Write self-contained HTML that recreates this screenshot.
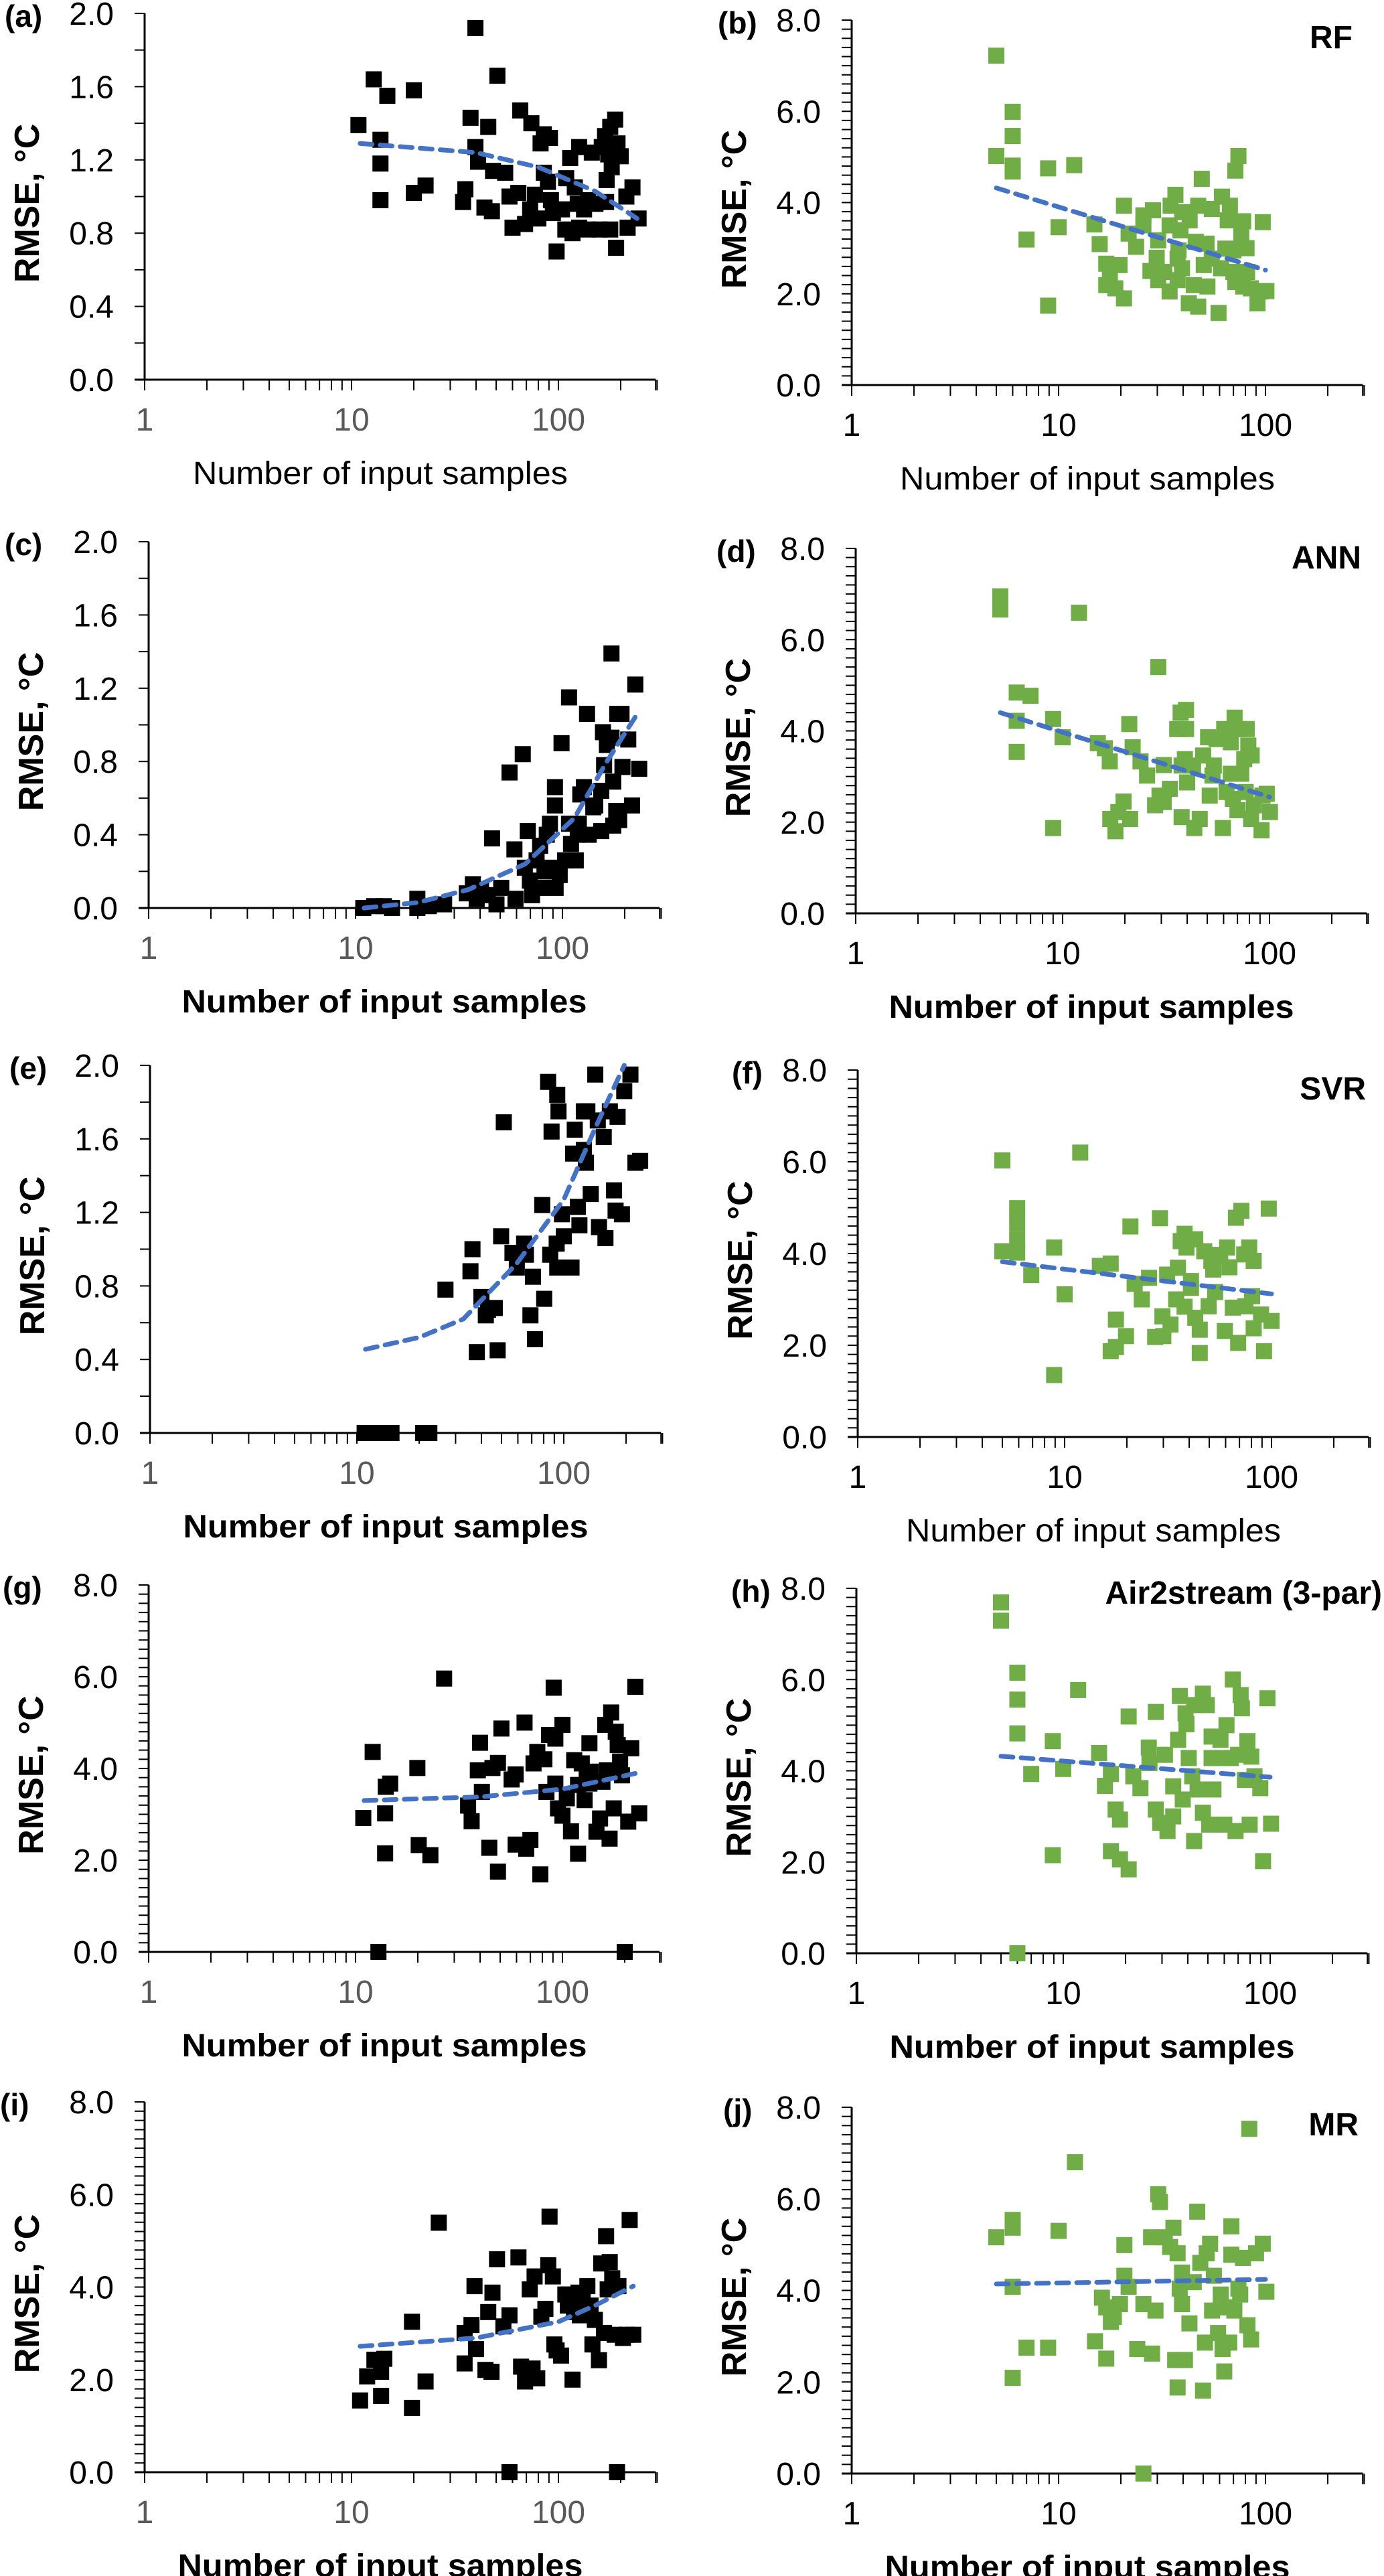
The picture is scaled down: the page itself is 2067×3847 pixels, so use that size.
<!DOCTYPE html>
<html><head><meta charset="utf-8"><title>RMSE vs number of input samples</title>
<style>
html,body{margin:0;padding:0;background:#fff;}
svg{display:block;font-family:"Liberation Sans",Arial,sans-serif;}
</style></head>
<body>
<svg id="fig" xmlns="http://www.w3.org/2000/svg" width="2067" height="3847" viewBox="0 0 2067 3847"></svg>
<script>
// ---------- data (x = number of input samples, y = RMSE °C) ----------
const aX=[10.8,12.8,14.9,13.8,13.8,13.8,20,20,22.8,39.7,50.7,37.6,45.8,39.7,40.9,48.3,55.3,35.5,34.6,43.9,47.7,65.4,74,85,91,82,85,89,58,64,77,60,69,73,80,92,94,104,98,109,114,126,120,124,133,139,108,117,126,139,151,158,145,162,168,178,188,174,193,200,171,181,170,178,190,213,228,216,244];
const aY=[1.39,1.64,1.55,1.31,1.18,0.98,1.58,1.02,1.06,1.92,1.66,1.43,1.38,1.27,1.19,1.14,1.13,1.04,0.97,0.94,0.92,1.47,1.40,1.34,1.32,1.29,1.13,1.08,1.00,1.02,1.01,0.83,0.85,0.93,0.88,0.98,0.91,0.93,0.70,1.10,1.21,1.27,1.05,0.96,0.93,0.98,0.82,0.80,0.83,0.82,0.96,0.82,1.24,1.27,1.33,1.38,1.42,1.23,1.29,1.22,1.09,1.16,0.97,0.82,0.72,1.00,1.05,0.83,0.88];
const aTX=[11,40,80,150,240];
const aTY=[1.29,1.24,1.16,1.03,0.88];

const bX=[5,6,6,5,6,6,7,8.9,8.9,11.9,10,14.9,15.8,20.7,17,17.7,17,18.8,19.7,20.7,21.8,23.7,25.7,25.7,28.6,30.3,29.8,27.8,30.3,32.4,34.4,34.8,36.7,34.4,38.8,39.6,43,38,37.6,39.5,37.6,42.6,45,47.3,49.2,47.3,46,51.9,50.3,52.4,55,55,59.3,61.6,67.3,65.7,61,64,70,71.5,74,70,71.5,76.4,78,81,81.5,78,85,97,94.6,101,91.5];
const bY=[7.22,5.99,5.46,5.02,4.81,4.68,3.19,4.75,1.74,4.82,3.46,3.52,3.09,3.93,2.66,2.41,2.19,2.12,2.63,1.90,3.32,3.03,3.72,3.50,3.83,3.17,2.79,2.50,2.30,2.48,2.05,3.93,4.17,3.50,3.39,3.79,3.61,2.95,2.77,2.56,2.30,1.79,2.19,1.72,4.52,3.93,3.14,3.10,2.63,2.16,3.86,2.77,1.58,4.13,3.93,3.61,2.56,2.99,2.48,4.70,5.02,2.95,2.26,3.30,3.59,3.00,2.48,2.16,2.12,3.57,2.05,2.06,1.79];
const bTX=[5,100];
const bTY=[4.32,2.52];

const cX=[10.9,12.3,13.7,15,19.9,19.9,22.6,26.8,34.5,36.9,38.5,40.4,43.6,45.7,48,50.6,55.5,58.6,59.3,64.3,65.8,68,69.6,71.3,75,78,80,81.9,84,87,89.5,92,92,92.7,97,99,103,107.6,110,107.6,116,118.6,120,122,127,131.5,134,141,144,154,154,157,159,164,172.6,172.6,176,176,182,184,188,193,195,208,217,225,235];
const cY=[0,0.01,0.01,0,0.05,0,0.01,0.02,0.08,0.13,0.05,0.10,0.07,0.38,0.02,0.11,0.74,0.32,0.05,0.84,0.22,0.42,0.15,0.07,0.26,0.34,0.11,0.20,0.40,0.46,0.22,0.56,0.66,0.11,0.18,0.90,0.26,0.46,0.35,1.15,0.26,0.40,0.46,0.62,0.66,1.06,0.40,0.55,0.56,0.42,0.64,0.96,0.78,0.89,1.39,0.93,0.69,0.45,0.53,1.06,0.48,1.06,0.77,0.92,0.56,1.22,0.76];
const cTX=[11,20,35,66,114,164,230];
const cTY=[0.0,0.03,0.10,0.24,0.49,0.80,1.06];

const dX=[5,5,12,29,6,7,6,6,9,10,9,14.8,16,16.9,17,18,18.6,19.7,21,21.2,21.8,23.8,25.6,28,29.4,30.8,30.8,33,35.8,37.2,39.5,37.6,39.5,39,37.6,40,43.3,42.7,46,47.8,50.5,51.4,53.8,55.5,53,59.5,60.4,65,65,67.8,71.5,70,73,75.5,77.6,79,82,81.5,84,76.7,91.5,92.5,97,100.5,62,66.5];
const dY=[6.95,6.66,6.59,5.40,4.84,4.77,4.22,3.54,4.26,3.86,1.87,3.73,3.62,3.33,2.07,1.80,2.22,2.45,4.15,2.07,3.64,3.33,3.02,2.37,2.58,3.25,2.44,2.73,4.04,4.40,4.46,3.24,4.04,3.38,2.11,2.87,1.87,3.24,2.07,3.46,3.86,2.58,3.24,3.82,3.02,1.87,4.04,3.75,3.06,4.29,4.04,2.26,3.06,3.38,4.04,3.68,3.46,2.07,2.37,2.66,1.82,2.58,2.62,2.22,2.66,2.51];
const dTX=[5,100];
const dTY=[4.40,2.55];

const eX=[10.9,12.7,14.7,20.9,22.4,26.8,35.4,36.2,38,40,42,43,46.4,47.9,49.8,51.3,56.5,59.3,64.3,65.6,69,71,72.6,78.7,80.4,84,86,87.3,93,94.3,92.4,93,98,100,109,113,117,119,111,125,125,130,128,135,142,146,148,156,159,167,175,178,182,191,196,210,222,234];
const eY=[0,0,0,0,0,0.78,0.88,1.00,0.44,0.74,0.64,0.67,0.68,0.45,1.07,1.69,0.98,0.90,1.03,0.97,0.64,0.85,0.51,1.24,0.73,1.91,0.97,1.64,1.84,1.75,1.03,0.90,1.19,1.07,0.90,1.65,1.23,1.13,1.52,1.54,1.75,1.75,1.47,1.30,1.95,1.70,1.12,1.61,1.06,1.75,1.32,1.21,1.72,1.19,1.86,1.95,1.47,1.48];
const eTX=[11,20,32.7,59,100,142,196];
const eTY=[0.455,0.52,0.62,0.92,1.27,1.66,2.0];

const fX=[5,11.9,5.9,5.9,5.9,5,5.9,6.9,8.9,10,8.9,14.8,16.7,16.7,17.7,17.7,19.8,20.8,21.8,23.6,25.6,27.4,28.9,29.7,30,31.3,32.5,34.6,35.3,36.4,38,38,38.8,40.8,40.8,42.8,42.8,45,45,47.3,49.7,51.2,52.3,53.4,56.5,59.5,61,62.6,65,69,67.3,71.5,73.8,74.8,78,80.6,82,82,89,92,97,100];
const fY=[6.03,6.20,4.99,4.66,4.31,4.05,4.02,3.53,4.13,3.11,1.35,3.73,3.78,1.87,1.96,2.56,2.20,4.59,3.34,3.00,3.47,2.18,4.77,2.63,2.20,3.54,2.45,3.00,3.69,4.27,4.43,2.84,4.13,3.40,3.25,4.31,2.60,2.34,1.83,4.05,2.85,3.84,3.65,3.16,3.97,2.31,4.13,3.70,2.82,2.05,4.78,4.93,3.98,2.85,4.13,3.07,3.84,2.37,2.67,1.87,4.98,2.53];
const fTX=[5,100];
const fTY=[3.82,3.12];

const gX=[10.9,12.1,12.9,13.9,14,14.7,13.9,19.9,20.2,23,26.8,35,36.4,39,40.8,40,44.3,45.9,48.8,48.8,50.7,56.8,59.4,59.4,65.6,66.8,70,72.5,75.6,78.2,81.8,83.7,86.2,90.7,92.4,92.4,95.2,100,100,105,110,114,119,119,124,128,131,135,135,137,146,152,156,161,164,169,172,177,181,185,190,194,200,208,215,225,235];
const gY=[2.92,4.36,0,3.02,3.60,3.67,2.15,4.01,2.33,2.11,5.96,3.19,2.85,3.96,3.49,4.56,2.27,4.01,4.12,1.75,4.87,3.76,3.87,2.34,5.00,2.25,2.44,4.11,4.36,1.69,4.20,3.49,4.73,5.76,4.65,3.67,3.13,4.95,2.97,3.35,2.63,4.18,3.64,2.14,4.11,3.31,3.85,4.55,3.67,3.93,2.62,2.91,3.71,4.95,3.96,2.47,5.22,3.13,4.80,4.51,4.15,3.85,0,2.84,4.44,5.78,3.02];
const gTX=[11,40,100,150,230];
const gTY=[3.30,3.38,3.55,3.72,3.90];

const hX=[5,5,6,6,6,6,7,8.9,8.9,10,11.8,14.9,15.9,17,17,17.9,18.8,18.8,20.7,20.7,21.8,23.6,25.9,26.1,28,28,29.4,31,31.9,34,34,35.9,36.6,37.8,39,39.4,40.4,42,42.9,42.9,44.6,47.3,47.3,49.4,50.7,52.1,52.1,53.2,57.5,58.6,60,61.5,64.5,66,68,70,72,73,75.5,77.6,79.6,81,84,89.6,92.4,97,101];
const hY=[7.69,7.29,6.15,5.56,4.82,0,3.93,4.65,2.15,4.04,5.77,4.39,3.67,3.93,2.24,3.15,2.93,2.06,5.19,1.84,3.88,3.62,4.51,4.17,5.29,3.15,2.86,4.35,2.68,3.00,3.66,4.68,5.64,3.37,5.26,5.02,4.28,3.88,5.44,2.46,3.59,5.69,3.08,5.44,2.82,4.75,4.28,3.59,4.68,4.28,2.82,5.00,4.28,6.00,2.68,4.35,5.66,5.37,3.80,4.65,2.82,4.31,3.88,3.62,2.02,5.59,2.84];
const hTX=[5,100];
const hTY=[4.32,3.86];

const iX=[11,11.9,12.9,13.9,13.9,14.4,19.6,19.6,22.8,26.4,35.2,35.2,38,40,39.3,44.4,45.8,47.5,48,50.5,54.2,58,58,64.1,66,69,72.7,75,76.7,79,82.7,86.5,89.3,90.6,94,95.6,98,103,108,111,117,119,125,127,131,138,143,146,150,157,161,166,170,173,177,182,187,192,195,205,215,221,230];
const iY=[1.55,2.07,2.43,1.65,2.17,2.45,3.25,1.39,1.96,5.39,2.35,3.01,3.18,2.66,4.02,2.21,3.46,2.17,3.88,4.60,3.15,3.39,0,4.64,2.28,1.96,3.95,2.24,4.23,2.03,3.36,3.53,4.47,5.52,4.23,2.76,2.63,2.52,3.84,3.60,2.00,3.46,3.88,3.39,3.74,4.02,3.60,2.76,3.29,2.42,4.51,3.01,5.10,3.95,4.54,4.19,2.97,0,4.02,2.90,2.97,5.45,2.97];
const iTX=[11,40,100,150,230];
const iTY=[2.72,2.90,3.25,3.60,4.02];

const jX=[5,6,6,6,6,7,8.9,10,12,15,16.2,17,17,17.9,18.5,19.8,20.8,20.8,21.8,24,25.7,25.7,28,28.3,29.4,30.3,30.9,32.6,34.6,35.9,36.6,37.6,38.5,39.5,39.5,40.8,37.6,42.9,45,46.8,48.4,49.9,51,52,54,55.2,56.3,59,60.8,62,63.2,65,66.8,68.4,68.4,70.7,74,75.5,77.8,81.8,83.5,85.2,90,97,101];
const jY=[5.16,5.54,5.37,4.08,2.09,2.75,2.75,5.30,6.80,2.89,3.84,2.51,3.63,3.31,3.42,3.70,4.99,4.32,4.08,2.72,0,3.70,5.16,2.62,3.56,6.10,5.93,5.16,4.95,5.37,2.48,4.81,4.04,3.70,4.39,2.48,1.88,3.28,4.18,5.72,4.60,1.81,2.86,4.81,5.02,3.56,4.32,3.07,3.91,2.72,2.23,3.63,2.86,5.40,4.78,3.56,4.04,3.91,4.71,3.24,7.53,2.93,4.81,5.02,3.97];
const jTX=[5,100];
const jTY=[4.14,4.24];

const yTicks2=["0.0","0.4","0.8","1.2","1.6","2.0"];
const yTicks8=["0.0","2.0","4.0","6.0","8.0"];
const xTickLabels=["1","10","100"];

// ---------- layout ----------
const panels=[
 {id:"a",ox:216,top:20,zero:567,ymax:2,yt:yTicks2,xs:aX,ys:aY,tx:aTX,ty:aTY,col:"#000",lx:7,method:"",bold:false,gray:true},
 {id:"b",ox:1272,top:30,zero:575,ymax:8,yt:yTicks8,xs:bX,ys:bY,tx:bTX,ty:bTY,col:"#70AD47",lx:1072,method:"RF",mx:2020,my:55,bold:false,gray:false},
 {id:"c",ox:222,top:809,zero:1356,ymax:2,yt:yTicks2,xs:cX,ys:cY,tx:cTX,ty:cTY,col:"#000",lx:7,method:"",bold:true,gray:true},
 {id:"d",ox:1278,top:819,zero:1364,ymax:8,yt:yTicks8,xs:dX,ys:dY,tx:dTX,ty:dTY,col:"#70AD47",lx:1070,method:"ANN",mx:2033,my:832,bold:true,gray:false},
 {id:"e",ox:224,top:1591,zero:2140,ymax:2,yt:yTicks2,xs:eX,ys:eY,tx:eTX,ty:eTY,col:"#000",lx:14,method:"",bold:true,gray:true},
 {id:"f",ox:1281,top:1598,zero:2146,ymax:8,yt:yTicks8,xs:fX,ys:fY,tx:fTX,ty:fTY,col:"#70AD47",lx:1093,method:"SVR",mx:2040,my:1625,bold:false,gray:false},
 {id:"g",ox:222,top:2367,zero:2915,ymax:8,yt:yTicks8,xs:gX,ys:gY,tx:gTX,ty:gTY,col:"#000",lx:4,method:"",bold:true,gray:true},
 {id:"h",ox:1279,top:2372,zero:2917,ymax:8,yt:yTicks8,xs:hX,ys:hY,tx:hTX,ty:hTY,col:"#70AD47",lx:1092,method:"Air2stream (3-par)",mx:2064,my:2378,bold:true,gray:false},
 {id:"i",ox:216,top:3139,zero:3692,ymax:8,yt:yTicks8,xs:iX,ys:iY,tx:iTX,ty:iTY,col:"#000",lx:0,method:"",bold:true,gray:true},
 {id:"j",ox:1272,top:3147,zero:3694,ymax:8,yt:yTicks8,xs:jX,ys:jY,tx:jTX,ty:jTY,col:"#70AD47",lx:1080,method:"MR",mx:2029,my:3172,bold:true,gray:false}
];
const NS="http://www.w3.org/2000/svg";
const svg=document.getElementById("fig");
const DEC=309, XMAXLOG=2.47, MS=24;
function mk(tag,attrs,parent){const e=document.createElementNS(NS,tag);for(const k in attrs)e.setAttribute(k,attrs[k]);parent.appendChild(e);return e;}

panels.forEach(p=>{
  const g=mk("g",{},svg);
  
  
  const xS=v=>p.ox+Math.log10(v)*DEC;
  const yS=v=>p.zero-(v/p.ymax)*(p.zero-p.top);
  const xEnd=p.ox+XMAXLOG*DEC;
  const nT=Math.round(p.ymax/0.2);
  for(let k=0;k<=nT;k++){
    const y=yS(k*0.2);
    const t=mk("line",{x1:p.ox-15,x2:p.ox,y1:y,y2:y,stroke:"#000","stroke-width":2},g);
    
    
  }
  for(let d=0;d<3;d++){for(let m=1;m<=9;m++){const v=m*Math.pow(10,d);if(Math.log10(v)>XMAXLOG+0.01)continue;const x=xS(v);
    const t=mk("line",{x1:x,x2:x,y1:p.zero,y2:p.zero+16,stroke:"#000","stroke-width":2},g);
    
    
  }}
  const te=mk("line",{x1:xEnd,x2:xEnd,y1:p.zero,y2:p.zero+16,stroke:"#000","stroke-width":2},g);
  
  
  const ya=mk("line",{x1:p.ox,x2:p.ox,y1:p.top,y2:p.zero,stroke:"#000","stroke-width":3},g);
  
  
  const xa=mk("line",{x1:p.ox-15,x2:xEnd,y1:p.zero,y2:p.zero,stroke:"#000","stroke-width":3},g);
  
  
  p.yt.forEach(s=>{const v=parseFloat(s);
    const t=mk("text",{x:p.ox-46,y:yS(v)+17,"text-anchor":"end","font-size":48,fill:"#000"},g);t.textContent=s;
    
    
  });
  xTickLabels.forEach(s=>{const v=parseFloat(s);
    const t=mk("text",{x:xS(v),y:p.zero+76,"text-anchor":"middle","font-size":48,fill:p.gray?"#595959":"#000"},g);t.textContent=s;
    
    
  });
  const xt=mk("text",{x:p.ox+352,y:p.zero+156,"text-anchor":"middle","font-size":48,"font-weight":p.bold?"bold":"normal",fill:"#000",textLength:p.bold?605:560,lengthAdjust:"spacingAndGlyphs"},g);
  xt.textContent="Number of input samples";
  
  
  const cy=(p.top+p.zero)/2+10, cx=p.ox-158;
  const yt=mk("text",{x:cx,y:cy,transform:`rotate(-90 ${cx} ${cy})`,"text-anchor":"middle","font-size":52,"font-weight":"bold",fill:"#000"},g);
  yt.textContent="RMSE, °C";
  
  
  const pl=mk("text",{x:p.lx,y:p.top+20,"font-size":46,"font-weight":"bold",fill:"#000"},g);
  pl.textContent="("+p.id+")";
  
  
  if(p.method){
    const ml=mk("text",{x:p.mx,y:p.my+17,"text-anchor":"end","font-size":48,"font-weight":"bold",fill:"#000"},g);
    ml.textContent=p.method;
    
    
  }
  p.xs.forEach((xv,i)=>{
    const r=mk("rect",{x:xS(xv)-MS/2,y:yS(p.ys[i])-MS/2,width:MS,height:MS,fill:p.col},g);
    
    
  });
  const pts=p.tx.map((xv,i)=>xS(xv).toFixed(1)+","+yS(p.ty[i]).toFixed(1)).join(" ");
  const tl=mk("polyline",{points:pts,fill:"none",stroke:"#4472C4","stroke-width":7,"stroke-dasharray":"18 12","stroke-linecap":"round"},g);
  
  
});
</script>
</body></html>
